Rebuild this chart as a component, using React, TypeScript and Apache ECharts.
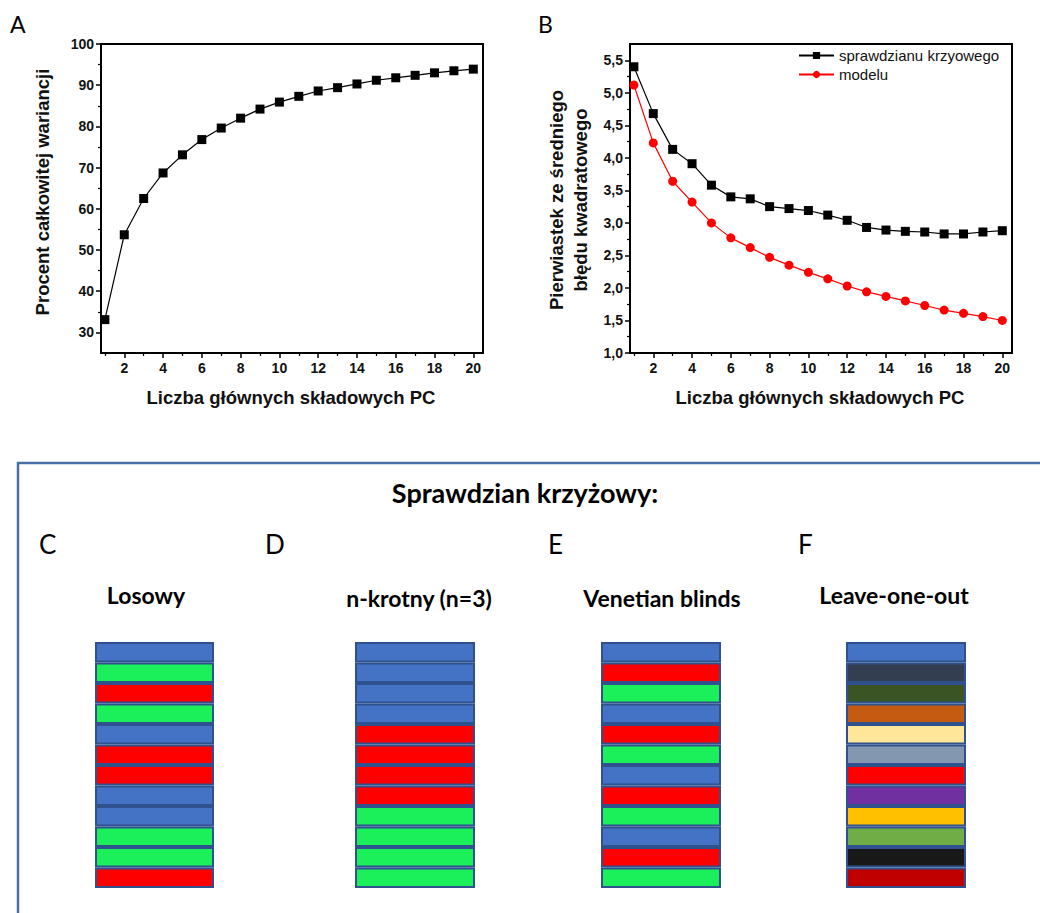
import React, { useEffect, useRef } from "react";
import * as echarts from "echarts";

// ---- data ----
const pcCount = [1, 2, 3, 4, 5, 6, 7, 8, 9, 10, 11, 12, 13, 14, 15, 16, 17, 18, 19, 20];
const variancePct = [33.1, 53.7, 62.5, 68.7, 73.1, 76.8, 79.6, 82.0, 84.2, 85.9, 87.3, 88.6, 89.4, 90.3, 91.2, 91.8, 92.4, 93.0, 93.5, 93.9];
const rmseCV = [5.40, 4.68, 4.13, 3.91, 3.58, 3.40, 3.37, 3.25, 3.22, 3.19, 3.12, 3.04, 2.93, 2.89, 2.87, 2.86, 2.83, 2.83, 2.86, 2.88];
const rmseModel = [5.12, 4.23, 3.64, 3.32, 3.00, 2.77, 2.62, 2.47, 2.35, 2.24, 2.14, 2.03, 1.94, 1.87, 1.80, 1.73, 1.66, 1.61, 1.56, 1.50];

const xMajorTicks = [2, 4, 6, 8, 10, 12, 14, 16, 18, 20];
const xMinorTicks = [1, 3, 5, 7, 9, 11, 13, 15, 17, 19];
const yATicks = [30, 40, 50, 60, 70, 80, 90, 100];
const yAMinor = [35, 45, 55, 65, 75, 85, 95];
const yBTicks = [1.0, 1.5, 2.0, 2.5, 3.0, 3.5, 4.0, 4.5, 5.0, 5.5];
const yBMinor = [1.25, 1.75, 2.25, 2.75, 3.25, 3.75, 4.25, 4.75, 5.25];

const seriesNames = ["sprawdzianu krzyowego", "modelu"];

const schemeTitles = ["Losowy", "n-krotny (n=3)", "Venetian blinds", "Leave-one-out"];
const schemeLetters = ["C", "D", "E", "F"];
const foldLosowy = ["blue", "green", "red", "green", "blue", "red", "red", "blue", "blue", "green", "green", "red"];
const foldNKrotny = ["blue", "blue", "blue", "blue", "red", "red", "red", "red", "green", "green", "green", "green"];
const foldVenetian = ["blue", "red", "green", "blue", "red", "green", "blue", "red", "green", "blue", "red", "green"];
const foldLOO = ["blue", "slate", "darkgreen", "orange", "cream", "greyblue", "red", "purple", "gold", "olive", "black", "darkred"];

const palette: Record<string, string> = {
  blue: "#4472C4",
  green: "#1BEF5A",
  red: "#FF0000",
  slate: "#333F50",
  darkgreen: "#3A5424",
  orange: "#C55A11",
  cream: "#FFE699",
  greyblue: "#8497B0",
  purple: "#7030A0",
  gold: "#FFC000",
  olive: "#70AD47",
  black: "#181818",
  darkred: "#C00000",
};

const ARIAL = "Liberation Sans, Arial, sans-serif";
const CAL = "Lato, Calibri, sans-serif";

export default function App() {
  const ref = useRef<HTMLDivElement>(null);
  useEffect(() => {
    if (!ref.current) return;
    const chart = echarts.init(ref.current, null, { renderer: "svg" });

    const grids: any[] = [
      { left: 101, top: 44, width: 382, height: 309, show: true, borderColor: "#000", borderWidth: 2, backgroundColor: "transparent" },
      { left: 630, top: 44, width: 382, height: 309, show: true, borderColor: "#000", borderWidth: 2, backgroundColor: "transparent" },
      { left: 95, top: 642, width: 119, height: 246 },
      { left: 355, top: 642, width: 120, height: 246 },
      { left: 601, top: 642, width: 120, height: 246 },
      { left: 846, top: 642, width: 120, height: 246 },
    ];

    const majorX = (g: number) => ({
      type: "value", gridIndex: g, min: 0.8, max: 20.5,
      axisLine: { show: true, onZero: false, lineStyle: { color: "#000", width: 2 } },
      axisTick: { show: true, customValues: xMajorTicks, length: 5, lineStyle: { color: "#000", width: 1.5 } },
      axisLabel: { show: true, customValues: xMajorTicks, color: "#111", fontFamily: ARIAL, fontWeight: "bold", fontSize: 14, margin: 8 },
      splitLine: { show: false },
    });
    const minorX = (g: number) => ({
      type: "value", gridIndex: g, min: 0.8, max: 20.5, position: "bottom",
      axisLine: { show: false },
      axisTick: { show: true, customValues: xMinorTicks, length: 3, lineStyle: { color: "#000", width: 1.2 } },
      axisLabel: { show: false },
      splitLine: { show: false },
    });
    const majorY = (g: number, min: number, max: number, ticks: number[], fmt: (v: number) => string) => ({
      type: "value", gridIndex: g, min, max,
      axisLine: { show: true, onZero: false, lineStyle: { color: "#000", width: 2 } },
      axisTick: { show: true, customValues: ticks, length: 5, lineStyle: { color: "#000", width: 1.5 } },
      axisLabel: { show: true, customValues: ticks, color: "#111", fontFamily: ARIAL, fontWeight: "bold", fontSize: 14, margin: 7, formatter: fmt },
      splitLine: { show: false },
    });
    const minorY = (g: number, min: number, max: number, ticks: number[]) => ({
      type: "value", gridIndex: g, min, max, position: "left",
      axisLine: { show: false },
      axisTick: { show: true, customValues: ticks, length: 3, lineStyle: { color: "#000", width: 1.2 } },
      axisLabel: { show: false },
      splitLine: { show: false },
    });

    const folds = [foldLosowy, foldNKrotny, foldVenetian, foldLOO];

    const xAxis: any[] = [majorX(0), minorX(0), majorX(1), minorX(1)];
    const yAxis: any[] = [
      majorY(0, 25, 100, yATicks, (v: number) => String(v)),
      minorY(0, 25, 100, yAMinor),
      majorY(1, 1, 5.75, yBTicks, (v: number) => v.toFixed(1).replace(".", ",")),
      minorY(1, 1, 5.75, yBMinor),
    ];
    folds.forEach((f, i) => {
      xAxis.push({ type: "value", gridIndex: 2 + i, min: 0, max: 1, show: false });
      yAxis.push({ type: "category", gridIndex: 2 + i, inverse: true, data: f.map((_, k) => String(k + 1)), show: false });
    });

    const series: any[] = [
      {
        type: "line", name: "variance", xAxisIndex: 0, yAxisIndex: 0,
        data: pcCount.map((x, i) => [x, variancePct[i]]),
        symbol: "rect", symbolSize: 9,
        lineStyle: { color: "#000", width: 1.2 }, itemStyle: { color: "#000" },
      },
      {
        type: "line", name: seriesNames[0], xAxisIndex: 2, yAxisIndex: 2,
        data: pcCount.map((x, i) => [x, rmseCV[i]]),
        symbol: "rect", symbolSize: 9,
        lineStyle: { color: "#000", width: 1.2 }, itemStyle: { color: "#000" },
      },
      {
        type: "line", name: seriesNames[1], xAxisIndex: 2, yAxisIndex: 2,
        data: pcCount.map((x, i) => [x, rmseModel[i]]),
        symbol: "circle", symbolSize: 9,
        lineStyle: { color: "#FF0000", width: 1.2 }, itemStyle: { color: "#FF0000" },
      },
    ];
    folds.forEach((f, i) => {
      series.push({
        type: "bar", name: schemeTitles[i], xAxisIndex: 4 + i, yAxisIndex: 4 + i,
        barCategoryGap: "0%", barWidth: "100%",
        data: f.map((c) => ({ value: 1, itemStyle: { color: palette[c] } })),
        itemStyle: { borderColor: "#2F528F", borderWidth: 2 },
        silent: true,
      });
    });

    const graphic: any[] = [
      { type: "text", x: 10, y: 24, style: { text: "A", font: `23px ${CAL}`, fill: "#000", verticalAlign: "middle" } },
      { type: "text", x: 538, y: 24, style: { text: "B", font: `23px ${CAL}`, fill: "#000", verticalAlign: "middle" } },
      {
        type: "text", x: 42, y: 192, rotation: Math.PI / 2,
        style: { text: "Procent całkowitej wariancji", font: `bold 18.5px ${ARIAL}`, fill: "#111", align: "center", verticalAlign: "middle" },
      },
      {
        type: "text", x: 568, y: 200, rotation: Math.PI / 2,
        style: { text: "Pierwiastek ze średniego\nbłędu kwadratowego", font: `bold 18.5px ${ARIAL}`, lineHeight: 24, fill: "#111", align: "center", verticalAlign: "middle" },
      },
      { type: "text", x: 291, y: 397, style: { text: "Liczba głównych składowych PC", font: `bold 18.5px ${ARIAL}`, fill: "#111", align: "center", verticalAlign: "middle" } },
      { type: "text", x: 820, y: 397, style: { text: "Liczba głównych składowych PC", font: `bold 18.5px ${ARIAL}`, fill: "#111", align: "center", verticalAlign: "middle" } },
      { type: "rect", shape: { x: 18, y: 463, width: 1040, height: 470 }, style: { fill: "none", stroke: "#4A6FA8", lineWidth: 2.5 } },
      { type: "text", x: 525, y: 492, style: { text: "Sprawdzian krzyżowy:", font: `bold 27px ${CAL}`, fill: "#000", align: "center", verticalAlign: "middle" } },
    ];
    const letterX = [39, 265, 548, 798];
    const subX = [146, 419, 662, 894];
    const subY = [595, 598, 598, 595];
    schemeLetters.forEach((l, i) => {
      graphic.push({ type: "text", x: letterX[i], y: 544, style: { text: l, font: `26px ${CAL}`, fill: "#000", verticalAlign: "middle" } });
      graphic.push({ type: "text", x: subX[i], y: subY[i], style: { text: schemeTitles[i], font: `bold 23px ${CAL}`, fill: "#000", align: "center", verticalAlign: "middle" } });
    });

    chart.setOption({
      animation: false,
      backgroundColor: "#fff",
      grid: grids,
      xAxis,
      yAxis,
      series,
      legend: {
        data: seriesNames,
        orient: "vertical",
        left: 793, top: 43,
        itemWidth: 35, itemHeight: 9, itemGap: 4,
        textStyle: { fontFamily: ARIAL, fontSize: 15, color: "#111" },
        selectedMode: false,
      },
      graphic,
    });
    return () => chart.dispose();
  }, []);
  return <div ref={ref} style={{ position: "absolute", left: 0, top: 0, width: 1040, height: 913 }} />;
}
